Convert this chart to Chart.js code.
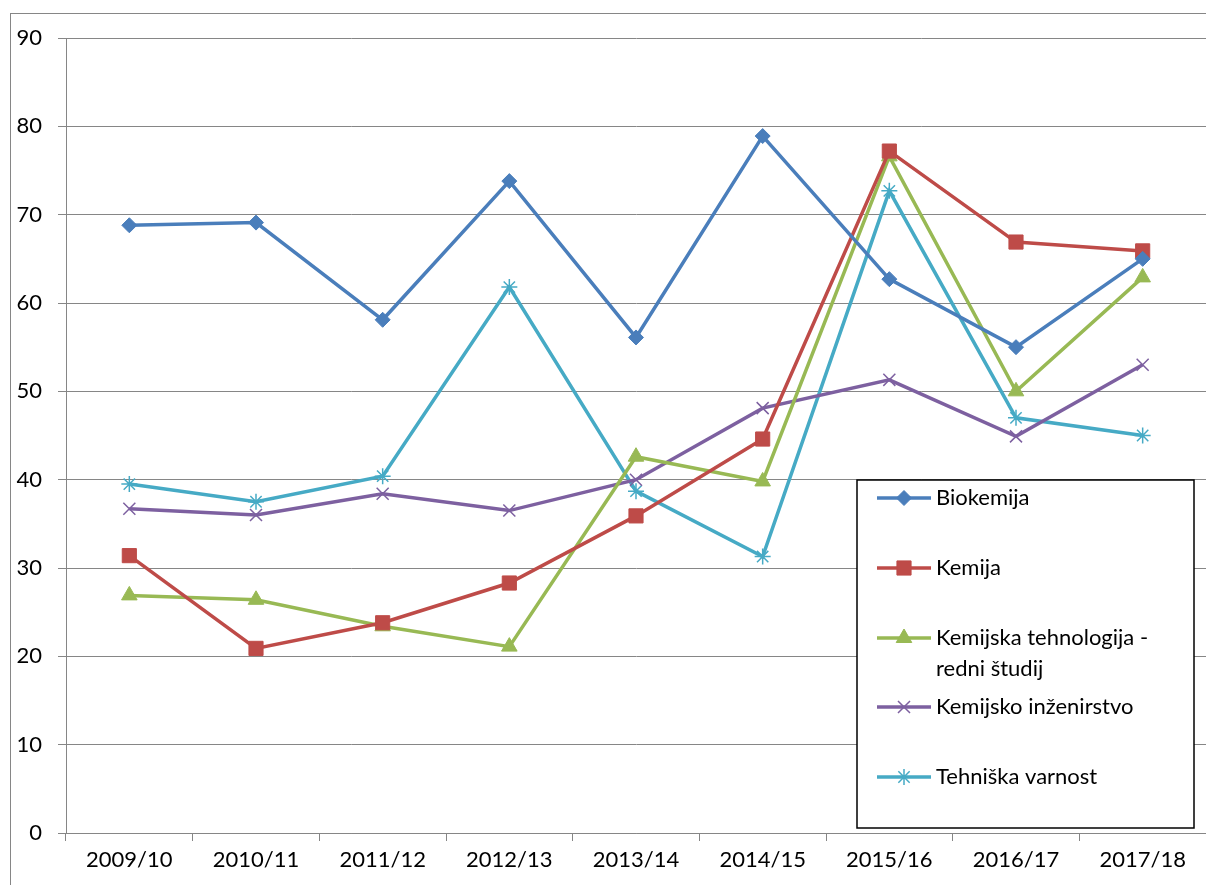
<!DOCTYPE html>
<html><head><meta charset="utf-8">
<script src="https://cdn.jsdelivr.net/npm/chart.js@4"></script>
<style>html,body{margin:0;padding:0;background:#fff}#wrap{width:1206px;height:885px}</style>
</head><body><div id="wrap"><canvas id="c" width="1206" height="885"></canvas></div>
<script>
const categories = ['2009/10','2010/11','2011/12','2012/13','2013/14','2014/15','2015/16','2016/17','2017/18'];
const biokemija = [68.8, 69.1, 58.1, 73.8, 56.1, 78.9, 62.7, 55.0, 65.0];
const kemija = [31.4, 20.9, 23.8, 28.3, 35.9, 44.6, 77.2, 66.9, 65.9];
const kemTehnologija = [26.9, 26.4, 23.4, 21.1, 42.6, 39.8, 76.6, 50.0, 62.9];
const kemInzenirstvo = [36.7, 36.0, 38.4, 36.5, 40.0, 48.1, 51.3, 44.9, 53.0];
const tehVarnost = [39.5, 37.5, 40.4, 61.8, 38.7, 31.3, 72.7, 47.0, 45.0];
const yTicks = [0,10,20,30,40,50,60,70,80,90];
const seriesLabels = ['Biokemija','Kemija',['Kemijska tehnologija -','redni študij'],'Kemijsko inženirstvo','Tehniška varnost'];

const FONT = 'Lato, "Open Sans", sans-serif';
const colors = ['#4A7EBB','#BE4B48','#98B954','#7D60A0','#46AAC5'];
const styles = ['rectRot','rect','triangle','crossRot','star'];
const radii = [7.5,10,9,8.5,8];
const seriesData = [biokemija,kemija,kemTehnologija,kemInzenirstvo,tehVarnost];

const datasets = seriesData.map((d,i)=>({
  label: seriesLabels[i],
  data: d,
  borderColor: colors[i],
  backgroundColor: colors[i],
  borderWidth: 3.5,
  pointStyle: styles[i],
  pointRadius: radii[i],
  pointBorderWidth: (i>=3)?1.5:1,
  pointBorderColor: colors[i],
  pointBackgroundColor: colors[i],
  tension: 0,
  fill: false,
  clip: false
}));

const frame = {
  id:'frame',
  beforeDraw(chart){
    const ctx=chart.ctx; ctx.save();
    ctx.strokeStyle='#868686'; ctx.lineWidth=1;
    ctx.strokeRect(10.5,13.5,1400,1000);
    ctx.restore();
  }
};

const boxLegend = {
  id:'boxLegend',
  afterDraw(chart){
    const ctx=chart.ctx; ctx.save();
    const x0=857, y0=480, w=337, h=348;
    ctx.fillStyle='#fff'; ctx.fillRect(x0,y0,w,h);
    ctx.strokeStyle='#000'; ctx.lineWidth=1.5; ctx.strokeRect(x0,y0,w,h);
    const rowsY=[498,568,638,707,777];
    ctx.font='22px '+FONT; ctx.textBaseline='middle'; ctx.textAlign='left';
    chart.data.datasets.forEach((ds,i)=>{
      const y=rowsY[i];
      ctx.strokeStyle=ds.borderColor; ctx.lineWidth=3.5;
      ctx.beginPath(); ctx.moveTo(877,y); ctx.lineTo(931,y); ctx.stroke();
      ctx.fillStyle=ds.backgroundColor; ctx.strokeStyle=ds.borderColor; ctx.lineWidth=ds.pointBorderWidth;
      Chart.helpers.drawPoint(ctx,{pointStyle:ds.pointStyle,radius:ds.pointRadius,rotation:0,borderWidth:ds.pointBorderWidth},904,y);
      ctx.fillStyle='#000';
      const lbl = Array.isArray(ds.label)?ds.label:[ds.label];
      lbl.forEach((t,k)=>ctx.fillText(t,936,y+k*31));
    });
    ctx.restore();
  }
};

new Chart(document.getElementById('c'),{
  type:'line',
  data:{labels:categories,datasets},
  plugins:[frame,boxLegend],
  options:{
    responsive:false,animation:false,
    layout:{autoPadding:false,padding:{left:10,top:38,right:0,bottom:0}},
    plugins:{legend:{display:false},tooltip:{enabled:false}},
    scales:{
      x:{
        offset:true,
        grid:{offset:true,drawOnChartArea:false,drawTicks:true,tickLength:8,color:'#868686',lineWidth:1},
        border:{display:true,color:'#868686',width:1},
        ticks:{color:'#000',font:{family:FONT,size:22},padding:6,maxRotation:0,autoSkip:false},
        afterFit(s){s.height=52;s.paddingRight=0;s.paddingLeft=0;}
      },
      y:{
        min:0,max:90,
        afterBuildTicks(s){s.ticks=yTicks.map(v=>({value:v}));},
        grid:{color:'#868686',lineWidth:1,tickLength:8,drawTicks:true},
        border:{display:true,color:'#868686',width:1},
        ticks:{color:'#000',font:{family:FONT,size:22},padding:16},
        afterFit(s){s.width=56;s.paddingTop=0;s.paddingBottom=0;}
      }
    }
  }
});
</script></body></html>
